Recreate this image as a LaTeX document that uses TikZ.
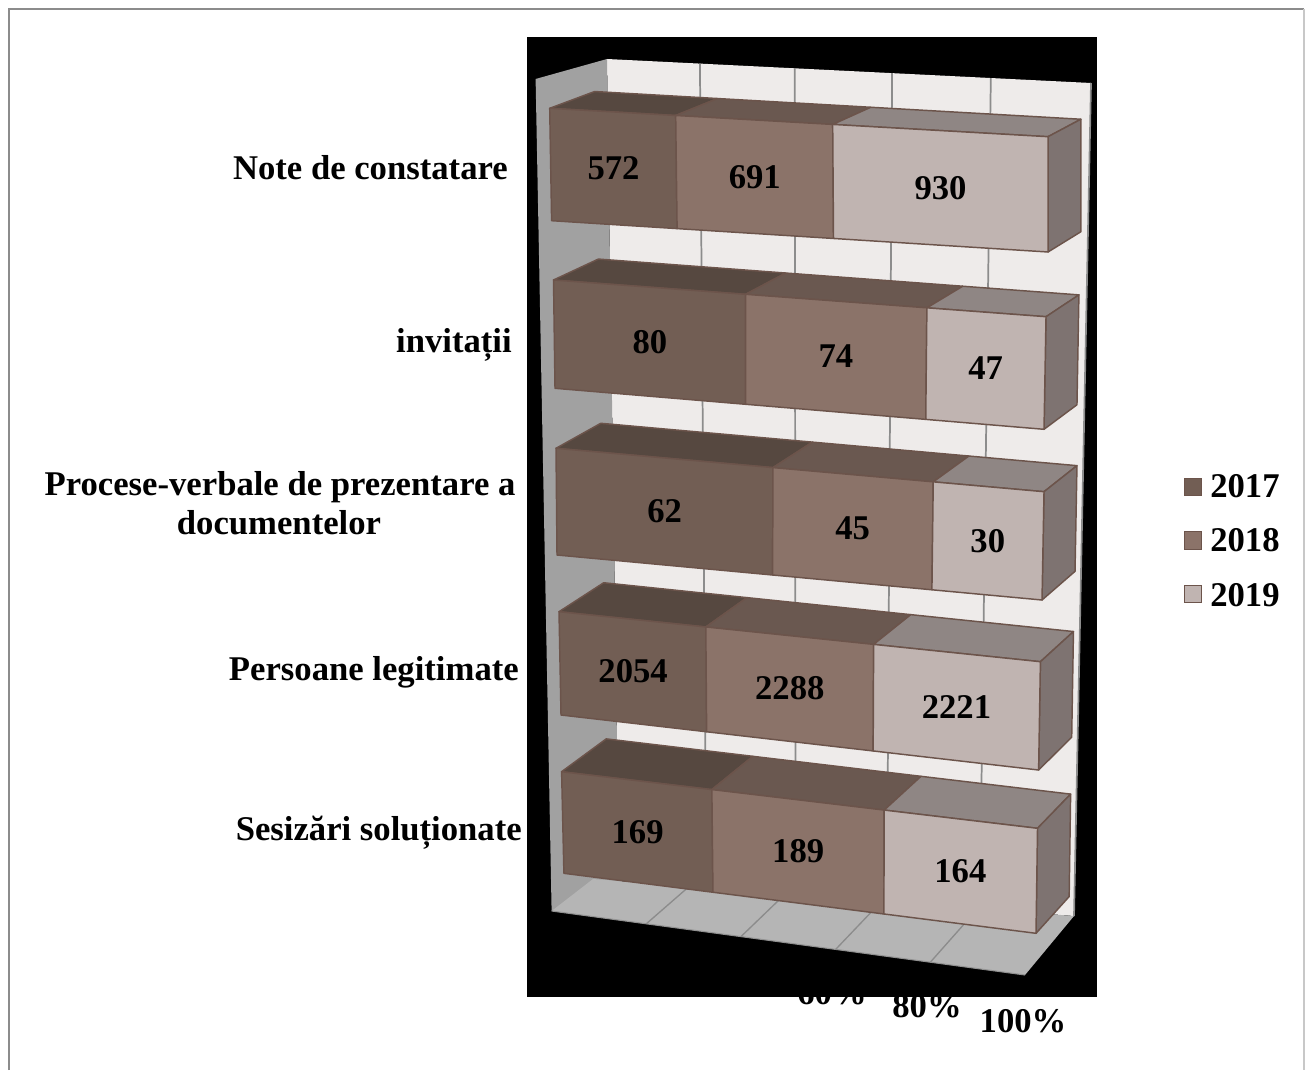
\documentclass[tikz,border=0pt]{standalone}
\usepackage{fontspec}
\setmainfont{Liberation Serif}
\usetikzlibrary{calc}
\definecolor{cAf}{RGB}{114,94,84}
\definecolor{cAt}{RGB}{86,72,64}
\definecolor{cBf}{RGB}{139,115,105}
\definecolor{cBt}{RGB}{106,88,80}
\definecolor{cCf}{RGB}{192,180,177}
\definecolor{cCt}{RGB}{143,134,132}
\definecolor{cCs}{RGB}{126,115,113}
\definecolor{edgec}{RGB}{108,84,75}
\definecolor{wallback}{RGB}{238,235,234}
\definecolor{wallside}{RGB}{161,161,161}
\definecolor{floorc}{RGB}{181,181,181}
\definecolor{gridc}{RGB}{140,140,140}
\definecolor{framec}{RGB}{140,140,140}
\definecolor{framer}{RGB}{200,200,200}
\newcommand\depthk{0.0242}
\newcommand\chartbar[8]{%
  \pgfmathsetmacro\fa{#6/(#6+#7+#8)-0.008}%
  \pgfmathsetmacro\fb{(#6+#7)/(#6+#7+#8)-0.008}%
  \coordinate (tl) at (#2);
  \coordinate (bl) at (#3);
  \coordinate (tr) at (#4);
  \coordinate (br) at (#5);
  \coordinate (t1) at ($(tl)!\fa!(tr)$);
  \coordinate (b1) at ($(bl)!\fa!(br)$);
  \coordinate (t2) at ($(tl)!\fb!(tr)$);
  \coordinate (b2) at ($(bl)!\fb!(br)$);
  \coordinate (tlk) at ($(tl)!\depthk!(VP)$);
  \coordinate (t1k) at ($(t1)!\depthk!(VP)$);
  \coordinate (t2k) at ($(t2)!\depthk!(VP)$);
  \coordinate (trk) at ($(tr)!\depthk!(VP)$);
  \coordinate (brk) at ($(br)!\depthk!(VP)$);
  \filldraw[seg, fill=cAt] (tl) -- (t1) -- (t1k) -- (tlk) -- cycle;
  \filldraw[seg, fill=cBt] (t1) -- (t2) -- (t2k) -- (t1k) -- cycle;
  \filldraw[seg, fill=cCt] (t2) -- (tr) -- (trk) -- (t2k) -- cycle;
  \filldraw[seg, fill=cCs] (tr) -- (br) -- (brk) -- (trk) -- cycle;
  \filldraw[seg, fill=cAf] (tl) -- (t1) -- (b1) -- (bl) -- cycle;
  \filldraw[seg, fill=cBf] (t1) -- (t2) -- (b2) -- (b1) -- cycle;
  \filldraw[seg, fill=cCf] (t2) -- (tr) -- (br) -- (b2) -- cycle;
  \node[lab] (#1a) at ($0.25*(tl)+0.25*(t1)+0.25*(b1)+0.25*(bl)$) {#6};
  \node[lab] (#1b) at ($0.25*(t1)+0.25*(t2)+0.25*(b2)+0.25*(b1)$) {#7};
  \node[lab] (#1c) at ($0.25*(t2)+0.25*(tr)+0.25*(br)+0.25*(b2)$) {#8};
}
\begin{document}
\begin{tikzpicture}[x=0.75pt,y=-0.75pt,
  lab/.style={font=\fontsize{26}{31}\selectfont\bfseries, inner sep=0pt},
  seg/.style={draw=edgec, line width=1.1pt, line join=round},
  gridline/.style={draw=gridc, line width=1.3pt},
  legbox/.style={draw=edgec, line width=0.9pt, minimum size=13pt, inner sep=0pt}]
\useasboundingbox (0,0) rectangle (1305,1070);
\fill[white] (0,0) rectangle (1305,1070);
% frame
\draw[framec, line width=1.6pt] (9,1070) -- (9,9) -- (1304,9);
\draw[framer, line width=1.2pt] (1304,9) -- (1304,1070);
% axis labels partly hidden behind the chart area
\node[lab, anchor=base] (p60) at (832,1004) {60\%};
\node[lab, anchor=base] (p80) at (927,1017) {80\%};
\node[lab, anchor=base] (p100) at (1023,1032) {100\%};
% chart area
\fill[black] (527,37) rectangle (1097,997);
\coordinate (VP) at (2406,-585);
% back wall
\coordinate (w1) at (607,59);
\coordinate (w2) at (1091,83);
\coordinate (w3) at (1074,916);
\coordinate (w4) at (619,880);
\fill[wallback] (w1) -- (w2) -- (w3) -- (w4) -- cycle;
\foreach \f in {0.192,0.388,0.589,0.793,1} {
  \draw[gridline] ($(w1)!\f!(w2)$) -- ($(w4)!\f!(w3)$);
}
% side wall
\fill[wallside] (535.6,79) -- (w1) -- (w4) -- (551.6,911) -- cycle;
% floor
\coordinate (f1) at (551.6,911);
\coordinate (f2) at (1025,975);
\coordinate (f3) at (1074,916);
\coordinate (f4) at (593,879);
\fill[floorc] (f1) -- (f2) -- (f3) -- (f4) -- cycle;
\draw[floorc!80!black, line width=0.8pt] (f1) -- (f2);
\foreach \f in {0.2,0.4,0.6,0.8} {
  \draw[gridc, line width=1pt] ($(f1)!\f!(f2)$) -- ($(f4)!\f!(f3)$);
}
% bars
\chartbar{ba}{549.7,108.3}{551.6,220.7}{1048,136.7}{1048,252}{572}{691}{930}
\chartbar{bb}{553.5,280}{555,388.3}{1046,316.7}{1044,429.3}{80}{74}{47}
\chartbar{bc}{556,448.3}{557,555}{1044,491.7}{1042,600}{62}{45}{30}
\chartbar{bd}{559,611.7}{561,715}{1040.4,661.7}{1038.6,770}{2054}{2288}{2221}
\chartbar{be}{561.6,771.7}{563.9,873.3}{1037.5,828.3}{1036,933.3}{169}{189}{164}
% category labels
\node[lab, anchor=base east] (cat1) at (508,179) {Note de constatare};
\node[lab, anchor=base east] (cat2) at (512,352) {invitații};
\node[lab, anchor=base] (cat3a) at (280,495) {Procese-verbale de prezentare a};
\node[lab, anchor=base] (cat3b) at (279,534) {documentelor};
\node[lab, anchor=base east] (cat4) at (519,680) {Persoane legitimate};
\node[lab, anchor=base east] (cat5) at (522,840) {Sesizări soluționate};
% legend
\node[legbox, fill=cAf] (k17) at (1192.8,487) {};
\node[lab, anchor=base west] (t17) at (1210,497) {2017};
\node[legbox, fill=cBf] (k18) at (1192.8,540.5) {};
\node[lab, anchor=base west] (t18) at (1210,551.5) {2018};
\node[legbox, fill=cCf] (k19) at (1192.8,594) {};
\node[lab, anchor=base west] (t19) at (1210,606) {2019};
\end{tikzpicture}
\end{document}
